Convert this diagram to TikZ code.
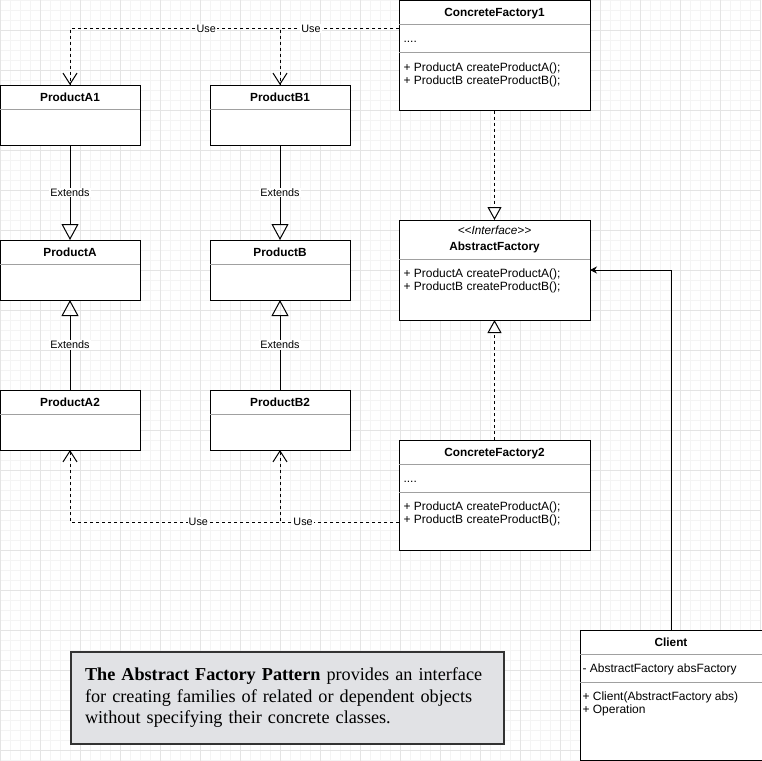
\documentclass[tikz,border=0pt]{standalone}
\usepackage{fontspec}
\setmainfont{Liberation Sans}[Ligatures=TeXOff]
\newfontfamily\notefont{Liberation Serif}
\usetikzlibrary{arrows.meta, positioning, calc}

\definecolor{gridminor}{HTML}{F4F4F4}
\definecolor{gridmajor}{HTML}{E4E4E4}
\definecolor{divider}{HTML}{A0A0A0}
\definecolor{notefill}{HTML}{E1E2E5}
\definecolor{noteline}{HTML}{333333}

\begin{document}
\begin{tikzpicture}[x=1pt, y=-1pt, line width=1pt,
  classbox/.style={draw, fill=white, anchor=north west, inner sep=0pt, outer sep=0pt},
  classname/.style={anchor=base, inner sep=0pt, font=\bfseries\fontsize{11.8}{13}\selectfont},
  stereotype/.style={anchor=base, inner sep=0pt, font=\itshape\fontsize{11.8}{13}\selectfont},
  member/.style={anchor=base west, inner sep=0pt, font=\fontsize{12}{13}\selectfont},
  divider/.style={draw=divider, line width=0.8pt},
  uses/.style={dashed, -{Straight Barb[length=11pt, width=14pt]}},
  extends/.style={-{Triangle[open, length=16pt, width=17pt]}},
  realizes/.style={dashed, -{Triangle[open, length=13pt, width=14pt]}},
  conn-label/.style={fill=white, inner sep=1pt, font=\fontsize{10.8}{12}\selectfont}]

\useasboundingbox (0,0) rectangle (761,761);

% background grid
\foreach \g in {0,10,...,760} {
  \draw[gridminor, line width=0.8pt] (\g,0) -- (\g,761);
  \draw[gridminor, line width=0.8pt] (0,\g) -- (761,\g);
}
\foreach \g in {0,40,...,760} \draw[gridmajor, line width=0.8pt] (\g,0) -- (\g,761);
\foreach \g in {30,70,...,750} \draw[gridmajor, line width=0.8pt] (0,\g) -- (761,\g);

% product classes
\node[classbox, minimum width=140pt, minimum height=60pt] (productA1) at (0,85) {};
\node[classbox, minimum width=140pt, minimum height=60pt] (productB1) at (210,85) {};
\node[classbox, minimum width=140pt, minimum height=60pt] (productA) at (0,240) {};
\node[classbox, minimum width=140pt, minimum height=60pt] (productB) at (210,240) {};
\node[classbox, minimum width=140pt, minimum height=60pt] (productA2) at (0,390) {};
\node[classbox, minimum width=140pt, minimum height=60pt] (productB2) at (210,390) {};
\node[classname] at ([yshift=-16pt]productA1.north) {ProductA1};
\node[classname] at ([yshift=-16pt]productB1.north) {ProductB1};
\node[classname] at ([yshift=-16pt]productA.north) {ProductA};
\node[classname] at ([yshift=-16pt]productB.north) {ProductB};
\node[classname] at ([yshift=-16pt]productA2.north) {ProductA2};
\node[classname] at ([yshift=-16pt]productB2.north) {ProductB2};
\draw[divider] ([yshift=-24pt]productA1.north west) -- ([yshift=-24pt]productA1.north east);
\draw[divider] ([yshift=-24pt]productB1.north west) -- ([yshift=-24pt]productB1.north east);
\draw[divider] ([yshift=-24pt]productA.north west) -- ([yshift=-24pt]productA.north east);
\draw[divider] ([yshift=-24pt]productB.north west) -- ([yshift=-24pt]productB.north east);
\draw[divider] ([yshift=-24pt]productA2.north west) -- ([yshift=-24pt]productA2.north east);
\draw[divider] ([yshift=-24pt]productB2.north west) -- ([yshift=-24pt]productB2.north east);

% factories
\node[classbox, minimum width=191pt, minimum height=110pt] (factory1) at (399,0.5) {};
\node[classname] at ([yshift=-16pt]factory1.north) {ConcreteFactory1};
\draw[divider] ([yshift=-24pt]factory1.north west) -- ([yshift=-24pt]factory1.north east);
\node[member] at ([xshift=4pt, yshift=-42pt]factory1.north west) {....};
\draw[divider] ([yshift=-52pt]factory1.north west) -- ([yshift=-52pt]factory1.north east);
\node[member] at ([xshift=4pt, yshift=-70.5pt]factory1.north west) {+ ProductA createProductA();};
\node[member] at ([xshift=4pt, yshift=-83.5pt]factory1.north west) {+ ProductB createProductB();};

\node[classbox, minimum width=191pt, minimum height=100pt] (abstractFactory) at (399,220) {};
\node[stereotype] at ([yshift=-14pt]abstractFactory.north) {<<Interface>>};
\node[classname] at ([yshift=-30pt]abstractFactory.north) {AbstractFactory};
\draw[divider] ([yshift=-39pt]abstractFactory.north west) -- ([yshift=-39pt]abstractFactory.north east);
\node[member] at ([xshift=4pt, yshift=-57.5pt]abstractFactory.north west) {+ ProductA createProductA();};
\node[member] at ([xshift=4pt, yshift=-70.5pt]abstractFactory.north west) {+ ProductB createProductB();};

\node[classbox, minimum width=191pt, minimum height=110pt] (factory2) at (399,440) {};
\node[classname] at ([yshift=-16pt]factory2.north) {ConcreteFactory2};
\draw[divider] ([yshift=-24pt]factory2.north west) -- ([yshift=-24pt]factory2.north east);
\node[member] at ([xshift=4pt, yshift=-42pt]factory2.north west) {....};
\draw[divider] ([yshift=-52pt]factory2.north west) -- ([yshift=-52pt]factory2.north east);
\node[member] at ([xshift=4pt, yshift=-70.5pt]factory2.north west) {+ ProductA createProductA();};
\node[member] at ([xshift=4pt, yshift=-83.5pt]factory2.north west) {+ ProductB createProductB();};

% client, its right side runs past the page
\node[classbox, minimum width=186pt, minimum height=130pt] (client) at (580,630) {};
\node[classname] at ([yshift=-16pt, xshift=-2pt]client.north) {Client};
\draw[divider] ([yshift=-24pt]client.north west) -- ([yshift=-24pt]client.north east);
\node[member] at ([xshift=2pt, yshift=-42pt]client.north west) {- AbstractFactory absFactory};
\draw[divider] ([yshift=-52pt]client.north west) -- ([yshift=-52pt]client.north east);
\node[member] at ([xshift=2pt, yshift=-70.5pt]client.north west) {+ Client(AbstractFactory abs)};
\node[member] at ([xshift=2pt, yshift=-83.5pt]client.north west) {+ Operation};

% note
\node[draw=noteline, line width=2pt, fill=notefill, minimum width=433pt, minimum height=92pt,
  text width=405pt, inner xsep=14pt, align=left, font=\notefont\fontsize{18.2}{21.5}\selectfont]
  (note) at (287.5,698) {\textbf{The Abstract Factory Pattern} provides an interface\\
  for creating families of related or dependent objects\\
  without specifying their concrete classes.};

% connectors
\coordinate (factory1-use) at ([yshift=-28pt]factory1.north west);
\coordinate (factory2-use) at ([yshift=-82pt]factory2.north west);
\coordinate (abstractFactory-in) at ([yshift=-50pt]abstractFactory.north east);
\coordinate (client-out) at ([xshift=-2pt]client.north);
\draw[uses] (factory1-use) -| (productA1.north) node[conn-label, pos=0.293] {Use};
\draw[uses] (factory1-use) -| (productB1.north) node[conn-label, pos=0.37] {Use};
\draw[uses] (factory2-use) -| (productA2.south) node[conn-label, pos=0.305] {Use};
\draw[uses] (factory2-use) -| (productB2.south) node[conn-label, pos=0.403] {Use};
\draw[extends] (productA1) -- (productA) node[conn-label, midway] {Extends};
\draw[extends] (productB1) -- (productB) node[conn-label, midway] {Extends};
\draw[extends] (productA2) -- (productA) node[conn-label, midway] {Extends};
\draw[extends] (productB2) -- (productB) node[conn-label, midway] {Extends};
\draw[realizes] (factory1) -- (abstractFactory);
\draw[realizes] (factory2) -- (abstractFactory);
\draw[-{Stealth[length=7pt, width=7pt]}] (client-out) |- (abstractFactory-in);
\end{tikzpicture}
\end{document}
